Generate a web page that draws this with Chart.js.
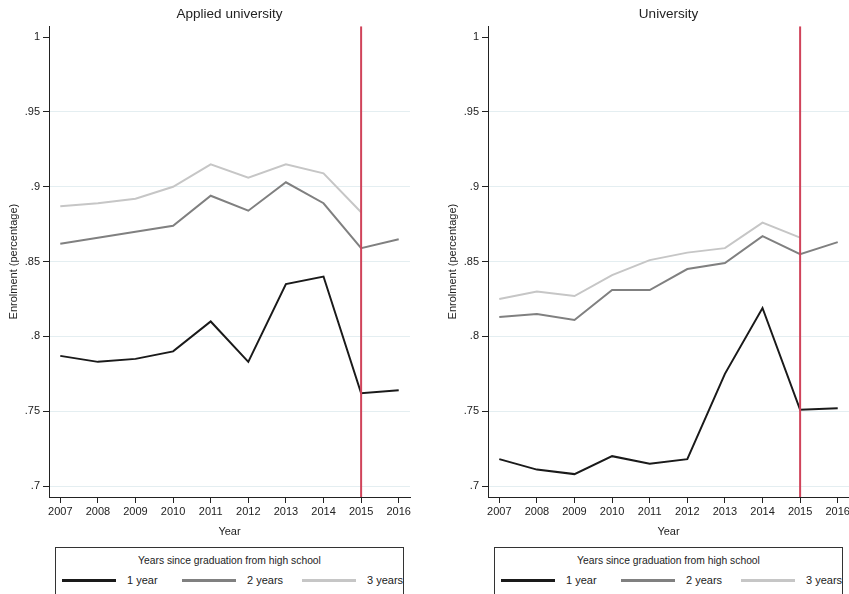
<!DOCTYPE html>
<html>
<head>
<meta charset="utf-8">
<script src="https://cdn.jsdelivr.net/npm/chart.js@4"></script>
<style>
    html, body { margin: 0; padding: 0; background: #fff; overflow: hidden; }
    body { width: 849px; height: 594px; position: relative; font-family: 'Liberation Sans', Arial, sans-serif; color: #222; }
    .panel { position: absolute; top: 0; height: 545px; }
    .legend-box {
        position: absolute; top: 547px; height: 60px; width: 349px;
        border: 1px solid #333; box-sizing: border-box; font-size: 11px;
    }
    .legend-title { position: absolute; top: 7px; left: 0; right: 0; text-align: center; font-size: 10.3px; }
    .legend-items { position: absolute; top: 26px; left: 6px; display: flex; }
    .legend-item { display: flex; align-items: center; width: 120px; }
    .legend-swatch { width: 54px; height: 0; border-top-style: solid; margin-right: 11px; }
</style>
</head>
<body>
<div class="panel" style="left:0;width:425px;"><canvas id="chart-applied"></canvas></div>
<div class="panel" style="left:425px;width:440px;"><canvas id="chart-university"></canvas></div>
<div class="legend-box" id="legend-applied" style="left:55px;"></div>
<div class="legend-box" id="legend-university" style="left:494px;"></div>
<script>
// --- Data ---
const years = [2007, 2008, 2009, 2010, 2011, 2012, 2013, 2014, 2015, 2016];
const seriesNames = ['1 year', '2 years', '3 years'];
const seriesColors = ['#1a1a1a', '#808080', '#c6c6c6'];
const yTicks = [0.7, 0.75, 0.8, 0.85, 0.9, 0.95, 1];
const reformYear = 2015;

const appliedOneYear = [0.787, 0.783, 0.785, 0.790, 0.810, 0.783, 0.835, 0.840, 0.762, 0.764];
const appliedTwoYears = [0.862, 0.866, 0.870, 0.874, 0.894, 0.884, 0.903, 0.889, 0.859, 0.865];
const appliedThreeYears = [0.887, 0.889, 0.892, 0.900, 0.915, 0.906, 0.915, 0.909, 0.883, null];

const uniOneYear = [0.718, 0.711, 0.708, 0.720, 0.715, 0.718, 0.775, 0.819, 0.751, 0.752];
const uniTwoYears = [0.813, 0.815, 0.811, 0.831, 0.831, 0.845, 0.849, 0.867, 0.855, 0.863];
const uniThreeYears = [0.825, 0.830, 0.827, 0.841, 0.851, 0.856, 0.859, 0.876, 0.866, null];

const Y_MIN = 0.6927, Y_MAX = 1.0073;
const X_MIN = 2006.7, X_MAX = 2016.3;
const FONT = "'Liberation Sans', Arial, sans-serif";

const toPoints = values => years.map((yr, i) => ({ x: yr, y: values[i] })).filter(p => p.y !== null);

const fmtY = v => {
    if (v === 1) return '1';
    return String(Math.round(v * 100) / 100).replace(/^0/, '');
};

const makeChart = (canvasId, title, series, padLeft, padRight) => {
    const datasets = series.map((vals, i) => ({
        label: seriesNames[i],
        data: toPoints(vals),
        borderColor: seriesColors[i],
        borderWidth: 2,
        pointRadius: 0,
        tension: 0,
        order: 3 - i
    }));
    // vertical reform line
    datasets.push({
        label: 'reform',
        data: [{ x: reformYear, y: Y_MIN }, { x: reformYear, y: Y_MAX }],
        borderColor: '#d0435a',
        borderWidth: 2,
        pointRadius: 0,
        order: 0
    });

    new Chart(document.getElementById(canvasId), {
        type: 'line',
        data: { datasets },
        options: {
            responsive: true,
            maintainAspectRatio: false,
            animation: false,
            layout: { padding: { left: padLeft, right: padRight, top: 0, bottom: 3 } },
            plugins: {
                legend: { display: false },
                tooltip: { enabled: false },
                title: {
                    display: true, text: title, fullSize: false,
                    color: '#222', font: { family: FONT, size: 13.5, weight: 'normal' },
                    padding: { top: 6, bottom: 4 }
                }
            },
            scales: {
                x: {
                    type: 'linear', min: X_MIN, max: X_MAX,
                    afterBuildTicks: s => { s.ticks = years.map(v => ({ value: v })); },
                    afterFit: s => { s.height = 45; },
                    grid: { drawOnChartArea: false, tickLength: 6, tickColor: '#222' },
                    border: { color: '#222', width: 1 },
                    ticks: { color: '#222', font: { family: FONT, size: 11 }, padding: 2, maxRotation: 0, callback: v => String(v) },
                    title: { display: true, text: 'Year', color: '#222', font: { family: FONT, size: 11 }, padding: { top: 4, bottom: 3 } }
                },
                y: {
                    min: Y_MIN, max: Y_MAX,
                    afterBuildTicks: s => { s.ticks = yTicks.map(v => ({ value: v })); },
                    afterFit: s => { s.width = 49; },
                    grid: {
                        color: ctx => (ctx.tick && ctx.tick.value === 1) ? 'rgba(0,0,0,0)' : '#e4eef1',
                        tickLength: 6, tickColor: '#222'
                    },
                    border: { color: '#222', width: 1 },
                    ticks: { color: '#222', font: { family: FONT, size: 11 }, padding: 3, callback: v => fmtY(v) },
                    title: { display: true, text: 'Enrolment (percentage)', color: '#222', font: { family: FONT, size: 11 }, padding: { top: 7, bottom: 0 } }
                }
            }
        }
    });
};

const renderLegend = (id) => {
    const box = document.getElementById(id);
    box.innerHTML = `
        <div class="legend-title">Years since graduation from high school</div>
        <div class="legend-items">
            ${seriesNames.map((name, i) => `
                <div class="legend-item">
                    <span class="legend-swatch" style="border-top-color:${seriesColors[i]};border-top-width:3px;"></span>
                    <span>${name}</span>
                </div>`).join('')}
        </div>`;
};

makeChart('chart-applied', 'Applied university', [appliedOneYear, appliedTwoYears, appliedThreeYears], 0, 15);
makeChart('chart-university', 'University', [uniOneYear, uniTwoYears, uniThreeYears], 14, 16);
renderLegend('legend-applied');
renderLegend('legend-university');
</script>
</body>
</html>
